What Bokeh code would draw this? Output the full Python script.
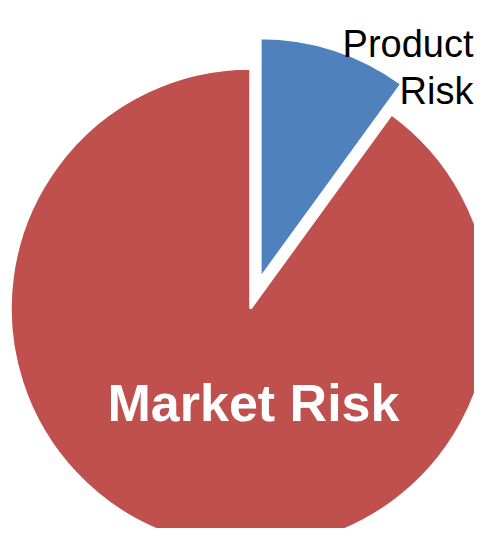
import math
from bokeh.plotting import figure
from bokeh.models import ColumnDataSource, Range1d
from bokeh.core.properties import value
from bokeh.embed import file_html
from bokeh.resources import INLINE

categories = ["Market Risk", "Product Risk"]
values = [90, 10]
colors = ["#C0504D", "#4F81BD"]
exploded = [0, 1]

W, H = 474, 528
CX, CY, R = 250, 220, 240
EXPLODE = 32

p = figure(width=W, height=H, output_backend="svg", toolbar_location=None,
           x_range=Range1d(0, W), y_range=Range1d(0, H), min_border=0)
p.axis.visible = False
p.grid.visible = False
p.outline_line_color = None
p.background_fill_color = "white"
p.border_fill_color = "white"

total = sum(values)
# slices go clockwise starting at 12 o'clock
order = list(range(len(values)))[::-1]
xs, ys, starts, ends, cols = [], [], [], [], []
cur = math.pi / 2
for i in order:
    ang = 2 * math.pi * values[i] / total
    end = cur
    start = cur - ang
    mid = (start + end) / 2
    off = EXPLODE if exploded[i] else 0
    xs.append(CX + off * math.cos(mid))
    ys.append(CY + off * math.sin(mid))
    starts.append(start)
    ends.append(end)
    cols.append(colors[i])
    cur = start

src = ColumnDataSource(dict(x=xs, y=ys, start=starts, end=ends, color=cols))
p.wedge(x="x", y="y", radius=R, start_angle="start", end_angle="end",
        fill_color="color", line_color="white", line_width=2.5, source=src)

# labels
p.text(x=[253], y=[126], text=[categories[0]], text_color="white",
       text_font=value("Liberation Sans"), text_font_style="bold",
       text_font_size="52px", text_align="center", text_baseline="alphabetic")
words = categories[1].split(" ")
p.text(x=[473, 473], y=[485, 438], text=words, text_color="black",
       text_font=value("Liberation Sans"), text_font_size="38px",
       text_align="right", text_baseline="alphabetic")

open("out.html", "w").write(file_html(p, INLINE))
